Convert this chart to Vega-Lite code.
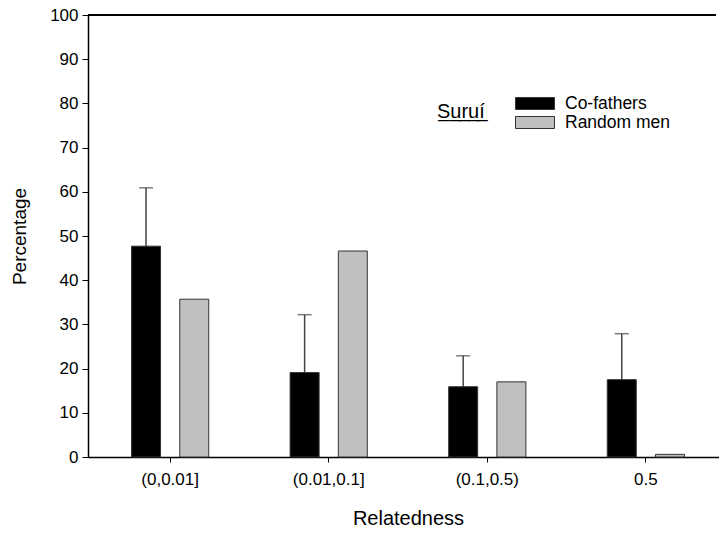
{
  "$schema": "https://vega.github.io/schema/vega-lite/v6.json",
  "width": 628,
  "height": 442,
  "autosize": {"type": "none"},
  "padding": {"left": 88, "top": 15, "right": 3, "bottom": 76},
  "background": "white",
  "config": {
    "view": {"stroke": null},
    "font": "Liberation Sans",
    "axis": {"labelFont": "Liberation Sans", "titleFont": "Liberation Sans", "labelColor": "black", "titleColor": "black", "domainColor": "black", "tickColor": "black", "grid": false, "titleFontWeight": "normal"}
  },
  "data": {
    "values": [
      {"rel": "(0,0.01]", "group": "Co-fathers", "value": 47.7, "upper": 60.9},
      {"rel": "(0,0.01]", "group": "Random men", "value": 35.7},
      {"rel": "(0.01,0.1]", "group": "Co-fathers", "value": 19.1, "upper": 32.2},
      {"rel": "(0.01,0.1]", "group": "Random men", "value": 46.6},
      {"rel": "(0.1,0.5)", "group": "Co-fathers", "value": 15.9, "upper": 22.9},
      {"rel": "(0.1,0.5)", "group": "Random men", "value": 17.0},
      {"rel": "0.5", "group": "Co-fathers", "value": 17.5, "upper": 27.9},
      {"rel": "0.5", "group": "Random men", "value": 0.6}
    ]
  },
  "layer": [
    {
      "mark": {"type": "rule", "color": "#444444", "strokeWidth": 1.5},
      "transform": [{"filter": "datum.upper != null"}],
      "encoding": {
        "x": {
          "field": "rel", "type": "nominal", "sort": null,
          "scale": {"paddingInner": 0, "paddingOuter": 0.018, "range": [0, 640]},
          "axis": {"title": "Relatedness", "labelAngle": 0, "labelFontSize": 17, "titleFontSize": 20, "tickSize": 5, "labelPadding": 9, "titlePadding": 21, "domainWidth": 1.5}
        },
        "xOffset": {"field": "group", "type": "nominal", "scale": {"domain": ["Co-fathers", "Random men"], "paddingInner": 0.396, "paddingOuter": 0.843}},
        "y": {"field": "value", "type": "quantitative", "title": "Percentage"},
        "y2": {"field": "upper"}
      }
    },
    {
      "mark": {"type": "tick", "color": "#444444", "thickness": 1.5, "size": 14},
      "transform": [{"filter": "datum.upper != null"}],
      "encoding": {
        "x": {"field": "rel", "type": "nominal", "sort": null, "title": "Relatedness"},
        "xOffset": {"field": "group", "type": "nominal"},
        "y": {"field": "upper", "type": "quantitative", "title": "Percentage"}
      }
    },
    {
      "mark": {"type": "bar", "stroke": "#333333", "strokeWidth": 1, "width": 29},
      "encoding": {
        "x": {"field": "rel", "type": "nominal", "sort": null, "title": "Relatedness"},
        "xOffset": {"field": "group", "type": "nominal"},
        "y": {
          "field": "value", "type": "quantitative",
          "scale": {"domain": [0, 100], "nice": false},
          "axis": {"title": "Percentage", "values": [0,10,20,30,40,50,60,70,80,90,100], "labelFontSize": 17, "titleFontSize": 19, "tickSize": 6, "labelPadding": 4, "titlePadding": 20, "domainWidth": 1.5}
        },
        "color": {
          "field": "group", "type": "nominal",
          "scale": {"domain": ["Co-fathers", "Random men"], "range": ["#000000", "#c0c0c0"]},
          "legend": {
            "title": "S̲u̲r̲u̲í̲",
            "titleOrient": "left",
            "titleFontSize": 20,
            "titleFontWeight": "normal",
            "titleColor": "black",
            "titleBaseline": "middle",
            "titlePadding": 39.5,
            "orient": "none",
            "legendX": 349,
            "legendY": 78,
            "symbolType": "M-1.95,-0.6H1.95V0.6H-1.95Z",
            "symbolSize": 400,
            "symbolStrokeColor": "#333333",
            "symbolStrokeWidth": 1,
            "labelFontSize": 17.5,
            "labelColor": "black",
            "rowPadding": 0,
            "labelOffset": 19.5
          }
        }
      }
    },
    {
      "mark": {"type": "rule", "color": "black", "strokeWidth": 1.5},
      "encoding": {"y": {"datum": 100, "type": "quantitative"}}
    }
  ]
}
